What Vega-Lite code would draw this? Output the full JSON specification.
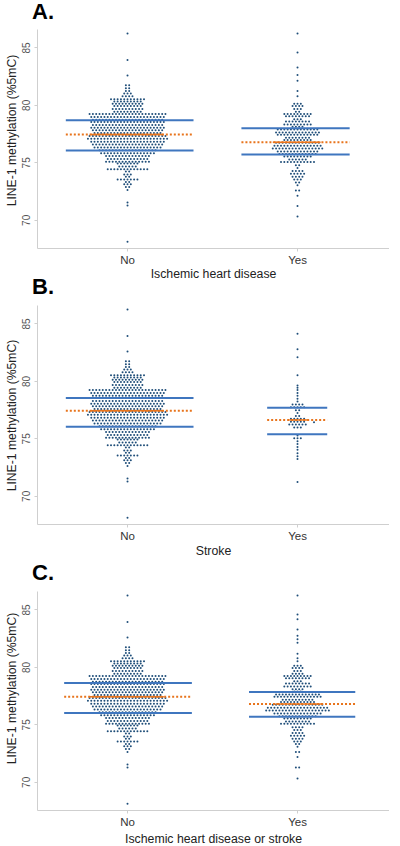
{"$schema":"https://vega.github.io/schema/vega-lite/v6.json","background":"white","padding":{"left":5,"top":1,"right":0,"bottom":0},"spacing":-4,
"config":{"view":{"stroke":null},"font":"Liberation Sans","axisX":{"labelAngle":0,"labelFontSize":11.5,"titleFontSize":12.3,"labelPadding":3,"titlePadding":2},"axisY":{"labelAngle":-90,"labelAlign":"center","labelBaseline":"bottom","labelFontSize":10,"labelColor":"#555555","titleFontSize":12.2,"labelPadding":3,"titlePadding":3},"axis":{"grid":false,"domainColor":"#cfcfcf","tickColor":"#cfcfcf","tickSize":3,"labelColor":"#333333","titleColor":"#222222","titleFontWeight":"normal"},"title":{"font":"Liberation Sans","fontSize":22,"fontWeight":"bold","anchor":"start","frame":"group","dx":-5}},
"datasets":{
"no":[{"slot":0,"pct":68.1},{"slot":0,"pct":71.25},{"slot":0,"pct":71.5},{"slot":0,"pct":72.6},{"slot":-0.5,"pct":72.85},{"slot":0.5,"pct":72.85},{"slot":-1,"pct":73.1},{"slot":0,"pct":73.1},{"slot":1,"pct":73.1},{"slot":-0.5,"pct":73.3},{"slot":0.5,"pct":73.3},{"slot":-3,"pct":73.5},{"slot":-2,"pct":73.5},{"slot":-1,"pct":73.5},{"slot":0,"pct":73.5},{"slot":1,"pct":73.5},{"slot":2,"pct":73.5},{"slot":3,"pct":73.5},{"slot":-0.5,"pct":73.75},{"slot":0.5,"pct":73.75},{"slot":-1,"pct":73.95},{"slot":0,"pct":73.95},{"slot":1,"pct":73.95},{"slot":-0.5,"pct":74.2},{"slot":0.5,"pct":74.2},{"slot":-6,"pct":74.4},{"slot":-5,"pct":74.4},{"slot":-4,"pct":74.4},{"slot":-3,"pct":74.4},{"slot":-2,"pct":74.4},{"slot":-1,"pct":74.4},{"slot":0,"pct":74.4},{"slot":1,"pct":74.4},{"slot":2,"pct":74.4},{"slot":3,"pct":74.4},{"slot":4,"pct":74.4},{"slot":5,"pct":74.4},{"slot":6,"pct":74.4},{"slot":-2.5,"pct":74.65},{"slot":-1.5,"pct":74.65},{"slot":-0.5,"pct":74.65},{"slot":0.5,"pct":74.65},{"slot":1.5,"pct":74.65},{"slot":2.5,"pct":74.65},{"slot":-3,"pct":74.9},{"slot":-2,"pct":74.9},{"slot":-1,"pct":74.9},{"slot":0,"pct":74.9},{"slot":1,"pct":74.9},{"slot":2,"pct":74.9},{"slot":3,"pct":74.9},{"slot":-6.5,"pct":75.05},{"slot":-5.5,"pct":75.05},{"slot":-4.5,"pct":75.05},{"slot":-3.5,"pct":75.05},{"slot":-2.5,"pct":75.05},{"slot":-1.5,"pct":75.05},{"slot":-0.5,"pct":75.05},{"slot":0.5,"pct":75.05},{"slot":1.5,"pct":75.05},{"slot":2.5,"pct":75.05},{"slot":3.5,"pct":75.05},{"slot":4.5,"pct":75.05},{"slot":5.5,"pct":75.05},{"slot":6.5,"pct":75.05},{"slot":-6,"pct":75.3},{"slot":-5,"pct":75.3},{"slot":-4,"pct":75.3},{"slot":-3,"pct":75.3},{"slot":-2,"pct":75.3},{"slot":-1,"pct":75.3},{"slot":0,"pct":75.3},{"slot":1,"pct":75.3},{"slot":2,"pct":75.3},{"slot":3,"pct":75.3},{"slot":4,"pct":75.3},{"slot":5,"pct":75.3},{"slot":6,"pct":75.3},{"slot":-6.5,"pct":75.55},{"slot":-5.5,"pct":75.55},{"slot":-4.5,"pct":75.55},{"slot":-3.5,"pct":75.55},{"slot":-2.5,"pct":75.55},{"slot":-1.5,"pct":75.55},{"slot":-0.5,"pct":75.55},{"slot":0.5,"pct":75.55},{"slot":1.5,"pct":75.55},{"slot":2.5,"pct":75.55},{"slot":3.5,"pct":75.55},{"slot":4.5,"pct":75.55},{"slot":5.5,"pct":75.55},{"slot":6.5,"pct":75.55},{"slot":-8,"pct":75.8},{"slot":-7,"pct":75.8},{"slot":-6,"pct":75.8},{"slot":-5,"pct":75.8},{"slot":-4,"pct":75.8},{"slot":-3,"pct":75.8},{"slot":-2,"pct":75.8},{"slot":-1,"pct":75.8},{"slot":0,"pct":75.8},{"slot":1,"pct":75.8},{"slot":2,"pct":75.8},{"slot":3,"pct":75.8},{"slot":4,"pct":75.8},{"slot":5,"pct":75.8},{"slot":6,"pct":75.8},{"slot":7,"pct":75.8},{"slot":8,"pct":75.8},{"slot":-8.5,"pct":76.05},{"slot":-7.5,"pct":76.05},{"slot":-6.5,"pct":76.05},{"slot":-5.5,"pct":76.05},{"slot":-4.5,"pct":76.05},{"slot":-3.5,"pct":76.05},{"slot":-2.5,"pct":76.05},{"slot":-1.5,"pct":76.05},{"slot":-0.5,"pct":76.05},{"slot":0.5,"pct":76.05},{"slot":1.5,"pct":76.05},{"slot":2.5,"pct":76.05},{"slot":3.5,"pct":76.05},{"slot":4.5,"pct":76.05},{"slot":5.5,"pct":76.05},{"slot":6.5,"pct":76.05},{"slot":7.5,"pct":76.05},{"slot":8.5,"pct":76.05},{"slot":-10,"pct":76.3},{"slot":-9,"pct":76.3},{"slot":-8,"pct":76.3},{"slot":-7,"pct":76.3},{"slot":-6,"pct":76.3},{"slot":-5,"pct":76.3},{"slot":-4,"pct":76.3},{"slot":-3,"pct":76.3},{"slot":-2,"pct":76.3},{"slot":-1,"pct":76.3},{"slot":0,"pct":76.3},{"slot":1,"pct":76.3},{"slot":2,"pct":76.3},{"slot":3,"pct":76.3},{"slot":4,"pct":76.3},{"slot":5,"pct":76.3},{"slot":6,"pct":76.3},{"slot":7,"pct":76.3},{"slot":8,"pct":76.3},{"slot":9,"pct":76.3},{"slot":10,"pct":76.3},{"slot":-10.5,"pct":76.55},{"slot":-9.5,"pct":76.55},{"slot":-8.5,"pct":76.55},{"slot":-7.5,"pct":76.55},{"slot":-6.5,"pct":76.55},{"slot":-5.5,"pct":76.55},{"slot":-4.5,"pct":76.55},{"slot":-3.5,"pct":76.55},{"slot":-2.5,"pct":76.55},{"slot":-1.5,"pct":76.55},{"slot":-0.5,"pct":76.55},{"slot":0.5,"pct":76.55},{"slot":1.5,"pct":76.55},{"slot":2.5,"pct":76.55},{"slot":3.5,"pct":76.55},{"slot":4.5,"pct":76.55},{"slot":5.5,"pct":76.55},{"slot":6.5,"pct":76.55},{"slot":7.5,"pct":76.55},{"slot":8.5,"pct":76.55},{"slot":9.5,"pct":76.55},{"slot":10.5,"pct":76.55},{"slot":-11,"pct":76.8},{"slot":-10,"pct":76.8},{"slot":-9,"pct":76.8},{"slot":-8,"pct":76.8},{"slot":-7,"pct":76.8},{"slot":-6,"pct":76.8},{"slot":-5,"pct":76.8},{"slot":-4,"pct":76.8},{"slot":-3,"pct":76.8},{"slot":-2,"pct":76.8},{"slot":-1,"pct":76.8},{"slot":0,"pct":76.8},{"slot":1,"pct":76.8},{"slot":2,"pct":76.8},{"slot":3,"pct":76.8},{"slot":4,"pct":76.8},{"slot":5,"pct":76.8},{"slot":6,"pct":76.8},{"slot":7,"pct":76.8},{"slot":8,"pct":76.8},{"slot":9,"pct":76.8},{"slot":10,"pct":76.8},{"slot":11,"pct":76.8},{"slot":-12,"pct":77.05},{"slot":-11,"pct":77.05},{"slot":-10,"pct":77.05},{"slot":-9,"pct":77.05},{"slot":-8,"pct":77.05},{"slot":-7,"pct":77.05},{"slot":-6,"pct":77.05},{"slot":-5,"pct":77.05},{"slot":-4,"pct":77.05},{"slot":-3,"pct":77.05},{"slot":-2,"pct":77.05},{"slot":-1,"pct":77.05},{"slot":0,"pct":77.05},{"slot":1,"pct":77.05},{"slot":2,"pct":77.05},{"slot":3,"pct":77.05},{"slot":4,"pct":77.05},{"slot":5,"pct":77.05},{"slot":6,"pct":77.05},{"slot":7,"pct":77.05},{"slot":8,"pct":77.05},{"slot":9,"pct":77.05},{"slot":10,"pct":77.05},{"slot":11,"pct":77.05},{"slot":12,"pct":77.05},{"slot":-11.5,"pct":77.3},{"slot":-10.5,"pct":77.3},{"slot":-9.5,"pct":77.3},{"slot":-8.5,"pct":77.3},{"slot":-7.5,"pct":77.3},{"slot":-6.5,"pct":77.3},{"slot":-5.5,"pct":77.3},{"slot":-4.5,"pct":77.3},{"slot":-3.5,"pct":77.3},{"slot":-2.5,"pct":77.3},{"slot":-1.5,"pct":77.3},{"slot":-0.5,"pct":77.3},{"slot":0.5,"pct":77.3},{"slot":1.5,"pct":77.3},{"slot":2.5,"pct":77.3},{"slot":3.5,"pct":77.3},{"slot":4.5,"pct":77.3},{"slot":5.5,"pct":77.3},{"slot":6.5,"pct":77.3},{"slot":7.5,"pct":77.3},{"slot":8.5,"pct":77.3},{"slot":9.5,"pct":77.3},{"slot":10.5,"pct":77.3},{"slot":11.5,"pct":77.3},{"slot":-10,"pct":77.55},{"slot":-9,"pct":77.55},{"slot":-8,"pct":77.55},{"slot":-7,"pct":77.55},{"slot":-6,"pct":77.55},{"slot":-5,"pct":77.55},{"slot":-4,"pct":77.55},{"slot":-3,"pct":77.55},{"slot":-2,"pct":77.55},{"slot":-1,"pct":77.55},{"slot":0,"pct":77.55},{"slot":1,"pct":77.55},{"slot":2,"pct":77.55},{"slot":3,"pct":77.55},{"slot":4,"pct":77.55},{"slot":5,"pct":77.55},{"slot":6,"pct":77.55},{"slot":7,"pct":77.55},{"slot":8,"pct":77.55},{"slot":9,"pct":77.55},{"slot":10,"pct":77.55},{"slot":-10.5,"pct":77.8},{"slot":-9.5,"pct":77.8},{"slot":-8.5,"pct":77.8},{"slot":-7.5,"pct":77.8},{"slot":-6.5,"pct":77.8},{"slot":-5.5,"pct":77.8},{"slot":-4.5,"pct":77.8},{"slot":-3.5,"pct":77.8},{"slot":-2.5,"pct":77.8},{"slot":-1.5,"pct":77.8},{"slot":-0.5,"pct":77.8},{"slot":0.5,"pct":77.8},{"slot":1.5,"pct":77.8},{"slot":2.5,"pct":77.8},{"slot":3.5,"pct":77.8},{"slot":4.5,"pct":77.8},{"slot":5.5,"pct":77.8},{"slot":6.5,"pct":77.8},{"slot":7.5,"pct":77.8},{"slot":8.5,"pct":77.8},{"slot":9.5,"pct":77.8},{"slot":10.5,"pct":77.8},{"slot":-11,"pct":78.0},{"slot":-10,"pct":78.0},{"slot":-9,"pct":78.0},{"slot":-8,"pct":78.0},{"slot":-7,"pct":78.0},{"slot":-6,"pct":78.0},{"slot":-5,"pct":78.0},{"slot":-4,"pct":78.0},{"slot":-3,"pct":78.0},{"slot":-2,"pct":78.0},{"slot":-1,"pct":78.0},{"slot":0,"pct":78.0},{"slot":1,"pct":78.0},{"slot":2,"pct":78.0},{"slot":3,"pct":78.0},{"slot":4,"pct":78.0},{"slot":5,"pct":78.0},{"slot":6,"pct":78.0},{"slot":7,"pct":78.0},{"slot":8,"pct":78.0},{"slot":9,"pct":78.0},{"slot":10,"pct":78.0},{"slot":11,"pct":78.0},{"slot":-10.5,"pct":78.25},{"slot":-9.5,"pct":78.25},{"slot":-8.5,"pct":78.25},{"slot":-7.5,"pct":78.25},{"slot":-6.5,"pct":78.25},{"slot":-5.5,"pct":78.25},{"slot":-4.5,"pct":78.25},{"slot":-3.5,"pct":78.25},{"slot":-2.5,"pct":78.25},{"slot":-1.5,"pct":78.25},{"slot":-0.5,"pct":78.25},{"slot":0.5,"pct":78.25},{"slot":1.5,"pct":78.25},{"slot":2.5,"pct":78.25},{"slot":3.5,"pct":78.25},{"slot":4.5,"pct":78.25},{"slot":5.5,"pct":78.25},{"slot":6.5,"pct":78.25},{"slot":7.5,"pct":78.25},{"slot":8.5,"pct":78.25},{"slot":9.5,"pct":78.25},{"slot":10.5,"pct":78.25},{"slot":-11,"pct":78.5},{"slot":-10,"pct":78.5},{"slot":-9,"pct":78.5},{"slot":-8,"pct":78.5},{"slot":-7,"pct":78.5},{"slot":-6,"pct":78.5},{"slot":-5,"pct":78.5},{"slot":-4,"pct":78.5},{"slot":-3,"pct":78.5},{"slot":-2,"pct":78.5},{"slot":-1,"pct":78.5},{"slot":0,"pct":78.5},{"slot":1,"pct":78.5},{"slot":2,"pct":78.5},{"slot":3,"pct":78.5},{"slot":4,"pct":78.5},{"slot":5,"pct":78.5},{"slot":6,"pct":78.5},{"slot":7,"pct":78.5},{"slot":8,"pct":78.5},{"slot":9,"pct":78.5},{"slot":10,"pct":78.5},{"slot":11,"pct":78.5},{"slot":-10.5,"pct":78.7},{"slot":-9.5,"pct":78.7},{"slot":-8.5,"pct":78.7},{"slot":-7.5,"pct":78.7},{"slot":-6.5,"pct":78.7},{"slot":-5.5,"pct":78.7},{"slot":-4.5,"pct":78.7},{"slot":-3.5,"pct":78.7},{"slot":-2.5,"pct":78.7},{"slot":-1.5,"pct":78.7},{"slot":-0.5,"pct":78.7},{"slot":0.5,"pct":78.7},{"slot":1.5,"pct":78.7},{"slot":2.5,"pct":78.7},{"slot":3.5,"pct":78.7},{"slot":4.5,"pct":78.7},{"slot":5.5,"pct":78.7},{"slot":6.5,"pct":78.7},{"slot":7.5,"pct":78.7},{"slot":8.5,"pct":78.7},{"slot":9.5,"pct":78.7},{"slot":10.5,"pct":78.7},{"slot":-11,"pct":78.95},{"slot":-10,"pct":78.95},{"slot":-9,"pct":78.95},{"slot":-8,"pct":78.95},{"slot":-7,"pct":78.95},{"slot":-6,"pct":78.95},{"slot":-5,"pct":78.95},{"slot":-4,"pct":78.95},{"slot":-3,"pct":78.95},{"slot":-2,"pct":78.95},{"slot":-1,"pct":78.95},{"slot":0,"pct":78.95},{"slot":1,"pct":78.95},{"slot":2,"pct":78.95},{"slot":3,"pct":78.95},{"slot":4,"pct":78.95},{"slot":5,"pct":78.95},{"slot":6,"pct":78.95},{"slot":7,"pct":78.95},{"slot":8,"pct":78.95},{"slot":9,"pct":78.95},{"slot":10,"pct":78.95},{"slot":11,"pct":78.95},{"slot":-11.5,"pct":79.2},{"slot":-10.5,"pct":79.2},{"slot":-9.5,"pct":79.2},{"slot":-8.5,"pct":79.2},{"slot":-7.5,"pct":79.2},{"slot":-6.5,"pct":79.2},{"slot":-5.5,"pct":79.2},{"slot":-4.5,"pct":79.2},{"slot":-3.5,"pct":79.2},{"slot":-2.5,"pct":79.2},{"slot":-1.5,"pct":79.2},{"slot":-0.5,"pct":79.2},{"slot":0.5,"pct":79.2},{"slot":1.5,"pct":79.2},{"slot":2.5,"pct":79.2},{"slot":3.5,"pct":79.2},{"slot":4.5,"pct":79.2},{"slot":5.5,"pct":79.2},{"slot":6.5,"pct":79.2},{"slot":7.5,"pct":79.2},{"slot":8.5,"pct":79.2},{"slot":9.5,"pct":79.2},{"slot":10.5,"pct":79.2},{"slot":11.5,"pct":79.2},{"slot":-4,"pct":79.4},{"slot":-3,"pct":79.4},{"slot":-2,"pct":79.4},{"slot":-1,"pct":79.4},{"slot":0,"pct":79.4},{"slot":1,"pct":79.4},{"slot":2,"pct":79.4},{"slot":3,"pct":79.4},{"slot":4,"pct":79.4},{"slot":-4.5,"pct":79.65},{"slot":-3.5,"pct":79.65},{"slot":-2.5,"pct":79.65},{"slot":-1.5,"pct":79.65},{"slot":-0.5,"pct":79.65},{"slot":0.5,"pct":79.65},{"slot":1.5,"pct":79.65},{"slot":2.5,"pct":79.65},{"slot":3.5,"pct":79.65},{"slot":4.5,"pct":79.65},{"slot":-4,"pct":79.9},{"slot":-3,"pct":79.9},{"slot":-2,"pct":79.9},{"slot":-1,"pct":79.9},{"slot":0,"pct":79.9},{"slot":1,"pct":79.9},{"slot":2,"pct":79.9},{"slot":3,"pct":79.9},{"slot":4,"pct":79.9},{"slot":-4.5,"pct":80.1},{"slot":-3.5,"pct":80.1},{"slot":-2.5,"pct":80.1},{"slot":-1.5,"pct":80.1},{"slot":-0.5,"pct":80.1},{"slot":0.5,"pct":80.1},{"slot":1.5,"pct":80.1},{"slot":2.5,"pct":80.1},{"slot":3.5,"pct":80.1},{"slot":4.5,"pct":80.1},{"slot":-4,"pct":80.3},{"slot":-3,"pct":80.3},{"slot":-2,"pct":80.3},{"slot":-1,"pct":80.3},{"slot":0,"pct":80.3},{"slot":1,"pct":80.3},{"slot":2,"pct":80.3},{"slot":3,"pct":80.3},{"slot":4,"pct":80.3},{"slot":-5,"pct":80.5},{"slot":-4,"pct":80.5},{"slot":-3,"pct":80.5},{"slot":-2,"pct":80.5},{"slot":-1,"pct":80.5},{"slot":0,"pct":80.5},{"slot":1,"pct":80.5},{"slot":2,"pct":80.5},{"slot":3,"pct":80.5},{"slot":4,"pct":80.5},{"slot":5,"pct":80.5},{"slot":-1.5,"pct":80.75},{"slot":-0.5,"pct":80.75},{"slot":0.5,"pct":80.75},{"slot":1.5,"pct":80.75},{"slot":-1,"pct":81.0},{"slot":0,"pct":81.0},{"slot":1,"pct":81.0},{"slot":-0.5,"pct":81.2},{"slot":0.5,"pct":81.2},{"slot":-0.5,"pct":81.45},{"slot":0.5,"pct":81.45},{"slot":-0.5,"pct":81.7},{"slot":0.5,"pct":81.7},{"slot":0,"pct":82.55},{"slot":0,"pct":83.9},{"slot":0,"pct":86.2}],
"yesA":[{"slot":0,"pct":70.3},{"slot":0,"pct":71.2},{"slot":0,"pct":72.1},{"slot":-0.5,"pct":72.55},{"slot":0.5,"pct":72.55},{"slot":0,"pct":73.0},{"slot":-0.5,"pct":73.25},{"slot":0.5,"pct":73.25},{"slot":-1,"pct":73.5},{"slot":0,"pct":73.5},{"slot":1,"pct":73.5},{"slot":-1.5,"pct":73.75},{"slot":-0.5,"pct":73.75},{"slot":0.5,"pct":73.75},{"slot":1.5,"pct":73.75},{"slot":-2,"pct":74.0},{"slot":-1,"pct":74.0},{"slot":0,"pct":74.0},{"slot":1,"pct":74.0},{"slot":2,"pct":74.0},{"slot":-1.5,"pct":74.25},{"slot":-0.5,"pct":74.25},{"slot":0.5,"pct":74.25},{"slot":1.5,"pct":74.25},{"slot":0,"pct":74.5},{"slot":-0.5,"pct":74.75},{"slot":0.5,"pct":74.75},{"slot":-5,"pct":75.03},{"slot":-4,"pct":75.03},{"slot":-3,"pct":75.03},{"slot":-2,"pct":75.03},{"slot":-1,"pct":75.03},{"slot":0,"pct":75.03},{"slot":1,"pct":75.03},{"slot":2,"pct":75.03},{"slot":3,"pct":75.03},{"slot":4,"pct":75.03},{"slot":5,"pct":75.03},{"slot":-2.5,"pct":75.25},{"slot":-1.5,"pct":75.25},{"slot":-0.5,"pct":75.25},{"slot":0.5,"pct":75.25},{"slot":1.5,"pct":75.25},{"slot":2.5,"pct":75.25},{"slot":-4,"pct":75.5},{"slot":-3,"pct":75.5},{"slot":-2,"pct":75.5},{"slot":-1,"pct":75.5},{"slot":0,"pct":75.5},{"slot":1,"pct":75.5},{"slot":2,"pct":75.5},{"slot":3,"pct":75.5},{"slot":4,"pct":75.5},{"slot":-5.5,"pct":75.72},{"slot":-4.5,"pct":75.72},{"slot":-3.5,"pct":75.72},{"slot":-2.5,"pct":75.72},{"slot":-1.5,"pct":75.72},{"slot":-0.5,"pct":75.72},{"slot":0.5,"pct":75.72},{"slot":1.5,"pct":75.72},{"slot":2.5,"pct":75.72},{"slot":3.5,"pct":75.72},{"slot":4.5,"pct":75.72},{"slot":5.5,"pct":75.72},{"slot":-6,"pct":75.95},{"slot":-5,"pct":75.95},{"slot":-4,"pct":75.95},{"slot":-3,"pct":75.95},{"slot":-2,"pct":75.95},{"slot":-1,"pct":75.95},{"slot":0,"pct":75.95},{"slot":1,"pct":75.95},{"slot":2,"pct":75.95},{"slot":3,"pct":75.95},{"slot":4,"pct":75.95},{"slot":5,"pct":75.95},{"slot":6,"pct":75.95},{"slot":-7.5,"pct":76.2},{"slot":-6.5,"pct":76.2},{"slot":-5.5,"pct":76.2},{"slot":-4.5,"pct":76.2},{"slot":-3.5,"pct":76.2},{"slot":-2.5,"pct":76.2},{"slot":-1.5,"pct":76.2},{"slot":-0.5,"pct":76.2},{"slot":0.5,"pct":76.2},{"slot":1.5,"pct":76.2},{"slot":2.5,"pct":76.2},{"slot":3.5,"pct":76.2},{"slot":4.5,"pct":76.2},{"slot":5.5,"pct":76.2},{"slot":6.5,"pct":76.2},{"slot":7.5,"pct":76.2},{"slot":-7,"pct":76.45},{"slot":-6,"pct":76.45},{"slot":-5,"pct":76.45},{"slot":-4,"pct":76.45},{"slot":-3,"pct":76.45},{"slot":-2,"pct":76.45},{"slot":-1,"pct":76.45},{"slot":0,"pct":76.45},{"slot":1,"pct":76.45},{"slot":2,"pct":76.45},{"slot":3,"pct":76.45},{"slot":4,"pct":76.45},{"slot":5,"pct":76.45},{"slot":6,"pct":76.45},{"slot":7,"pct":76.45},{"slot":-6.5,"pct":76.7},{"slot":-5.5,"pct":76.7},{"slot":-4.5,"pct":76.7},{"slot":-3.5,"pct":76.7},{"slot":-2.5,"pct":76.7},{"slot":-1.5,"pct":76.7},{"slot":-0.5,"pct":76.7},{"slot":0.5,"pct":76.7},{"slot":1.5,"pct":76.7},{"slot":2.5,"pct":76.7},{"slot":3.5,"pct":76.7},{"slot":4.5,"pct":76.7},{"slot":5.5,"pct":76.7},{"slot":6.5,"pct":76.7},{"slot":-4,"pct":76.95},{"slot":-3,"pct":76.95},{"slot":-2,"pct":76.95},{"slot":-1,"pct":76.95},{"slot":0,"pct":76.95},{"slot":1,"pct":76.95},{"slot":2,"pct":76.95},{"slot":3,"pct":76.95},{"slot":4,"pct":76.95},{"slot":-3.5,"pct":77.15},{"slot":-2.5,"pct":77.15},{"slot":-1.5,"pct":77.15},{"slot":-0.5,"pct":77.15},{"slot":0.5,"pct":77.15},{"slot":1.5,"pct":77.15},{"slot":2.5,"pct":77.15},{"slot":3.5,"pct":77.15},{"slot":-6,"pct":77.4},{"slot":-5,"pct":77.4},{"slot":-4,"pct":77.4},{"slot":-3,"pct":77.4},{"slot":-2,"pct":77.4},{"slot":-1,"pct":77.4},{"slot":0,"pct":77.4},{"slot":1,"pct":77.4},{"slot":2,"pct":77.4},{"slot":3,"pct":77.4},{"slot":4,"pct":77.4},{"slot":5,"pct":77.4},{"slot":6,"pct":77.4},{"slot":-6.5,"pct":77.6},{"slot":-5.5,"pct":77.6},{"slot":-4.5,"pct":77.6},{"slot":-3.5,"pct":77.6},{"slot":-2.5,"pct":77.6},{"slot":-1.5,"pct":77.6},{"slot":-0.5,"pct":77.6},{"slot":0.5,"pct":77.6},{"slot":1.5,"pct":77.6},{"slot":2.5,"pct":77.6},{"slot":3.5,"pct":77.6},{"slot":4.5,"pct":77.6},{"slot":5.5,"pct":77.6},{"slot":6.5,"pct":77.6},{"slot":-6,"pct":77.85},{"slot":-5,"pct":77.85},{"slot":-4,"pct":77.85},{"slot":-3,"pct":77.85},{"slot":-2,"pct":77.85},{"slot":-1,"pct":77.85},{"slot":0,"pct":77.85},{"slot":1,"pct":77.85},{"slot":2,"pct":77.85},{"slot":3,"pct":77.85},{"slot":4,"pct":77.85},{"slot":5,"pct":77.85},{"slot":6,"pct":77.85},{"slot":-1.5,"pct":78.1},{"slot":-0.5,"pct":78.1},{"slot":0.5,"pct":78.1},{"slot":1.5,"pct":78.1},{"slot":-4,"pct":78.3},{"slot":-3,"pct":78.3},{"slot":-2,"pct":78.3},{"slot":-1,"pct":78.3},{"slot":0,"pct":78.3},{"slot":1,"pct":78.3},{"slot":2,"pct":78.3},{"slot":3,"pct":78.3},{"slot":4,"pct":78.3},{"slot":-3.5,"pct":78.55},{"slot":-2.5,"pct":78.55},{"slot":-1.5,"pct":78.55},{"slot":-0.5,"pct":78.55},{"slot":0.5,"pct":78.55},{"slot":1.5,"pct":78.55},{"slot":2.5,"pct":78.55},{"slot":3.5,"pct":78.55},{"slot":-1,"pct":78.75},{"slot":0,"pct":78.75},{"slot":1,"pct":78.75},{"slot":-3.5,"pct":79.0},{"slot":-2.5,"pct":79.0},{"slot":-1.5,"pct":79.0},{"slot":-0.5,"pct":79.0},{"slot":0.5,"pct":79.0},{"slot":1.5,"pct":79.0},{"slot":2.5,"pct":79.0},{"slot":3.5,"pct":79.0},{"slot":-4,"pct":79.2},{"slot":-3,"pct":79.2},{"slot":-2,"pct":79.2},{"slot":-1,"pct":79.2},{"slot":0,"pct":79.2},{"slot":1,"pct":79.2},{"slot":2,"pct":79.2},{"slot":3,"pct":79.2},{"slot":4,"pct":79.2},{"slot":-0.5,"pct":79.4},{"slot":0.5,"pct":79.4},{"slot":-1,"pct":79.65},{"slot":0,"pct":79.65},{"slot":1,"pct":79.65},{"slot":-1.5,"pct":79.9},{"slot":-0.5,"pct":79.9},{"slot":0.5,"pct":79.9},{"slot":1.5,"pct":79.9},{"slot":-1,"pct":80.1},{"slot":0,"pct":80.1},{"slot":1,"pct":80.1},{"slot":0,"pct":80.75},{"slot":0,"pct":81.2},{"slot":0,"pct":82.1},{"slot":0,"pct":82.6},{"slot":0,"pct":83.25},{"slot":0,"pct":84.55},{"slot":0,"pct":86.2}],
"yesB":[{"slot":0,"pct":71.2},{"slot":0,"pct":73.2},{"slot":0,"pct":73.45},{"slot":0,"pct":73.7},{"slot":0,"pct":74.0},{"slot":0,"pct":74.25},{"slot":0,"pct":74.5},{"slot":0,"pct":74.75},{"slot":-1,"pct":75.0},{"slot":0,"pct":75.0},{"slot":1,"pct":75.0},{"slot":0,"pct":75.25},{"slot":-1,"pct":75.95},{"slot":0,"pct":75.95},{"slot":1,"pct":75.95},{"slot":-2.5,"pct":76.2},{"slot":-1.5,"pct":76.2},{"slot":-0.5,"pct":76.2},{"slot":0.5,"pct":76.2},{"slot":1.5,"pct":76.2},{"slot":2.5,"pct":76.2},{"slot":-2,"pct":76.45},{"slot":-1,"pct":76.45},{"slot":0,"pct":76.45},{"slot":1,"pct":76.45},{"slot":2,"pct":76.45},{"slot":5,"pct":76.4},{"slot":-2,"pct":76.7},{"slot":-1,"pct":76.7},{"slot":0,"pct":76.7},{"slot":1,"pct":76.7},{"slot":2,"pct":76.7},{"slot":-0.5,"pct":76.95},{"slot":0.5,"pct":76.95},{"slot":0,"pct":77.2},{"slot":-0.5,"pct":77.45},{"slot":0.5,"pct":77.45},{"slot":-2,"pct":77.7},{"slot":-1,"pct":77.7},{"slot":0,"pct":77.7},{"slot":1,"pct":77.7},{"slot":2,"pct":77.7},{"slot":-1.5,"pct":77.95},{"slot":-0.5,"pct":77.95},{"slot":0.5,"pct":77.95},{"slot":1.5,"pct":77.95},{"slot":0,"pct":78.2},{"slot":0,"pct":78.45},{"slot":0,"pct":78.7},{"slot":0,"pct":78.95},{"slot":0,"pct":79.2},{"slot":0,"pct":79.4},{"slot":0,"pct":79.6},{"slot":0,"pct":80.5},{"slot":0,"pct":82.05},{"slot":0,"pct":82.75},{"slot":0,"pct":84.1}],
"yesC":[{"slot":0,"pct":70.3},{"slot":-0.5,"pct":71.25},{"slot":0.5,"pct":71.25},{"slot":0,"pct":72.15},{"slot":-0.5,"pct":72.6},{"slot":0.5,"pct":72.6},{"slot":0,"pct":73.05},{"slot":-0.5,"pct":73.3},{"slot":0.5,"pct":73.3},{"slot":-1,"pct":73.5},{"slot":0,"pct":73.5},{"slot":1,"pct":73.5},{"slot":-1.5,"pct":73.75},{"slot":-0.5,"pct":73.75},{"slot":0.5,"pct":73.75},{"slot":1.5,"pct":73.75},{"slot":-2,"pct":74.0},{"slot":-1,"pct":74.0},{"slot":0,"pct":74.0},{"slot":1,"pct":74.0},{"slot":2,"pct":74.0},{"slot":-1.5,"pct":74.25},{"slot":-0.5,"pct":74.25},{"slot":0.5,"pct":74.25},{"slot":1.5,"pct":74.25},{"slot":-1,"pct":74.5},{"slot":0,"pct":74.5},{"slot":1,"pct":74.5},{"slot":-1.5,"pct":74.75},{"slot":-0.5,"pct":74.75},{"slot":0.5,"pct":74.75},{"slot":1.5,"pct":74.75},{"slot":-5,"pct":75.05},{"slot":-4,"pct":75.05},{"slot":-3,"pct":75.05},{"slot":-2,"pct":75.05},{"slot":-1,"pct":75.05},{"slot":0,"pct":75.05},{"slot":1,"pct":75.05},{"slot":2,"pct":75.05},{"slot":3,"pct":75.05},{"slot":4,"pct":75.05},{"slot":5,"pct":75.05},{"slot":-3.5,"pct":75.25},{"slot":-2.5,"pct":75.25},{"slot":-1.5,"pct":75.25},{"slot":-0.5,"pct":75.25},{"slot":0.5,"pct":75.25},{"slot":1.5,"pct":75.25},{"slot":2.5,"pct":75.25},{"slot":3.5,"pct":75.25},{"slot":-4,"pct":75.5},{"slot":-3,"pct":75.5},{"slot":-2,"pct":75.5},{"slot":-1,"pct":75.5},{"slot":0,"pct":75.5},{"slot":1,"pct":75.5},{"slot":2,"pct":75.5},{"slot":3,"pct":75.5},{"slot":4,"pct":75.5},{"slot":-5.5,"pct":75.7},{"slot":-4.5,"pct":75.7},{"slot":-3.5,"pct":75.7},{"slot":-2.5,"pct":75.7},{"slot":-1.5,"pct":75.7},{"slot":-0.5,"pct":75.7},{"slot":0.5,"pct":75.7},{"slot":1.5,"pct":75.7},{"slot":2.5,"pct":75.7},{"slot":3.5,"pct":75.7},{"slot":4.5,"pct":75.7},{"slot":5.5,"pct":75.7},{"slot":-7,"pct":75.95},{"slot":-6,"pct":75.95},{"slot":-5,"pct":75.95},{"slot":-4,"pct":75.95},{"slot":-3,"pct":75.95},{"slot":-2,"pct":75.95},{"slot":-1,"pct":75.95},{"slot":0,"pct":75.95},{"slot":1,"pct":75.95},{"slot":2,"pct":75.95},{"slot":3,"pct":75.95},{"slot":4,"pct":75.95},{"slot":5,"pct":75.95},{"slot":6,"pct":75.95},{"slot":7,"pct":75.95},{"slot":-9.5,"pct":76.2},{"slot":-8.5,"pct":76.2},{"slot":-7.5,"pct":76.2},{"slot":-6.5,"pct":76.2},{"slot":-5.5,"pct":76.2},{"slot":-4.5,"pct":76.2},{"slot":-3.5,"pct":76.2},{"slot":-2.5,"pct":76.2},{"slot":-1.5,"pct":76.2},{"slot":-0.5,"pct":76.2},{"slot":0.5,"pct":76.2},{"slot":1.5,"pct":76.2},{"slot":2.5,"pct":76.2},{"slot":3.5,"pct":76.2},{"slot":4.5,"pct":76.2},{"slot":5.5,"pct":76.2},{"slot":6.5,"pct":76.2},{"slot":7.5,"pct":76.2},{"slot":8.5,"pct":76.2},{"slot":9.5,"pct":76.2},{"slot":-9,"pct":76.45},{"slot":-8,"pct":76.45},{"slot":-7,"pct":76.45},{"slot":-6,"pct":76.45},{"slot":-5,"pct":76.45},{"slot":-4,"pct":76.45},{"slot":-3,"pct":76.45},{"slot":-2,"pct":76.45},{"slot":-1,"pct":76.45},{"slot":0,"pct":76.45},{"slot":1,"pct":76.45},{"slot":2,"pct":76.45},{"slot":3,"pct":76.45},{"slot":4,"pct":76.45},{"slot":5,"pct":76.45},{"slot":6,"pct":76.45},{"slot":7,"pct":76.45},{"slot":8,"pct":76.45},{"slot":9,"pct":76.45},{"slot":-7.5,"pct":76.7},{"slot":-6.5,"pct":76.7},{"slot":-5.5,"pct":76.7},{"slot":-4.5,"pct":76.7},{"slot":-3.5,"pct":76.7},{"slot":-2.5,"pct":76.7},{"slot":-1.5,"pct":76.7},{"slot":-0.5,"pct":76.7},{"slot":0.5,"pct":76.7},{"slot":1.5,"pct":76.7},{"slot":2.5,"pct":76.7},{"slot":3.5,"pct":76.7},{"slot":4.5,"pct":76.7},{"slot":5.5,"pct":76.7},{"slot":6.5,"pct":76.7},{"slot":7.5,"pct":76.7},{"slot":-5,"pct":76.95},{"slot":-4,"pct":76.95},{"slot":-3,"pct":76.95},{"slot":-2,"pct":76.95},{"slot":-1,"pct":76.95},{"slot":0,"pct":76.95},{"slot":1,"pct":76.95},{"slot":2,"pct":76.95},{"slot":3,"pct":76.95},{"slot":4,"pct":76.95},{"slot":5,"pct":76.95},{"slot":-4.5,"pct":77.15},{"slot":-3.5,"pct":77.15},{"slot":-2.5,"pct":77.15},{"slot":-1.5,"pct":77.15},{"slot":-0.5,"pct":77.15},{"slot":0.5,"pct":77.15},{"slot":1.5,"pct":77.15},{"slot":2.5,"pct":77.15},{"slot":3.5,"pct":77.15},{"slot":4.5,"pct":77.15},{"slot":-7,"pct":77.4},{"slot":-6,"pct":77.4},{"slot":-5,"pct":77.4},{"slot":-4,"pct":77.4},{"slot":-3,"pct":77.4},{"slot":-2,"pct":77.4},{"slot":-1,"pct":77.4},{"slot":0,"pct":77.4},{"slot":1,"pct":77.4},{"slot":2,"pct":77.4},{"slot":3,"pct":77.4},{"slot":4,"pct":77.4},{"slot":5,"pct":77.4},{"slot":6,"pct":77.4},{"slot":7,"pct":77.4},{"slot":-6.5,"pct":77.6},{"slot":-5.5,"pct":77.6},{"slot":-4.5,"pct":77.6},{"slot":-3.5,"pct":77.6},{"slot":-2.5,"pct":77.6},{"slot":-1.5,"pct":77.6},{"slot":-0.5,"pct":77.6},{"slot":0.5,"pct":77.6},{"slot":1.5,"pct":77.6},{"slot":2.5,"pct":77.6},{"slot":3.5,"pct":77.6},{"slot":4.5,"pct":77.6},{"slot":5.5,"pct":77.6},{"slot":6.5,"pct":77.6},{"slot":-1,"pct":77.85},{"slot":0,"pct":77.85},{"slot":1,"pct":77.85},{"slot":-1.5,"pct":78.05},{"slot":-0.5,"pct":78.05},{"slot":0.5,"pct":78.05},{"slot":1.5,"pct":78.05},{"slot":-4,"pct":78.3},{"slot":-3,"pct":78.3},{"slot":-2,"pct":78.3},{"slot":-1,"pct":78.3},{"slot":0,"pct":78.3},{"slot":1,"pct":78.3},{"slot":2,"pct":78.3},{"slot":3,"pct":78.3},{"slot":4,"pct":78.3},{"slot":-3.5,"pct":78.55},{"slot":-2.5,"pct":78.55},{"slot":-1.5,"pct":78.55},{"slot":-0.5,"pct":78.55},{"slot":0.5,"pct":78.55},{"slot":1.5,"pct":78.55},{"slot":2.5,"pct":78.55},{"slot":3.5,"pct":78.55},{"slot":-1,"pct":78.75},{"slot":0,"pct":78.75},{"slot":1,"pct":78.75},{"slot":-3.5,"pct":79.0},{"slot":-2.5,"pct":79.0},{"slot":-1.5,"pct":79.0},{"slot":-0.5,"pct":79.0},{"slot":0.5,"pct":79.0},{"slot":1.5,"pct":79.0},{"slot":2.5,"pct":79.0},{"slot":3.5,"pct":79.0},{"slot":-4,"pct":79.2},{"slot":-3,"pct":79.2},{"slot":-2,"pct":79.2},{"slot":-1,"pct":79.2},{"slot":0,"pct":79.2},{"slot":1,"pct":79.2},{"slot":2,"pct":79.2},{"slot":3,"pct":79.2},{"slot":4,"pct":79.2},{"slot":-1.5,"pct":79.4},{"slot":-0.5,"pct":79.4},{"slot":0.5,"pct":79.4},{"slot":1.5,"pct":79.4},{"slot":-1,"pct":79.65},{"slot":0,"pct":79.65},{"slot":1,"pct":79.65},{"slot":-1.5,"pct":79.9},{"slot":-0.5,"pct":79.9},{"slot":0.5,"pct":79.9},{"slot":1.5,"pct":79.9},{"slot":-1,"pct":80.1},{"slot":0,"pct":80.1},{"slot":1,"pct":80.1},{"slot":0,"pct":80.5},{"slot":0,"pct":80.75},{"slot":0,"pct":81.15},{"slot":0,"pct":82.1},{"slot":0,"pct":82.4},{"slot":0,"pct":82.7},{"slot":0,"pct":83.25},{"slot":0,"pct":84.15},{"slot":0,"pct":84.55},{"slot":0,"pct":86.2}]
},
"vconcat":[
{"title":{"text":"A.","offset":5},"width":352,"height":219,"layer":[
{"data":{"name":"no"},"mark":{"type":"point","filled":true,"size":4,"color":"#1f4e79","opacity":1},"encoding":{"x":{"datum":"No","type":"nominal","scale":{"domain":["No","Yes"],"paddingInner":0,"paddingOuter":0.0353,"align":0.46},"axis":{"title":"Ischemic heart disease"}},"xOffset":{"field":"slot","type":"quantitative","scale":{"domain":[-25.76,25.76]}},"y":{"field":"pct","type":"quantitative","scale":{"domain":[67.55,86.6],"nice":false,"zero":false},"axis":{"values":[70,75,80,85],"title":"LINE-1 methylation (%5mC)","titleY":101}}}},
{"data":{"name":"yesA"},"mark":{"type":"point","filled":true,"size":4,"color":"#1f4e79","opacity":1},"encoding":{"x":{"datum":"Yes","type":"nominal"},"xOffset":{"field":"slot","type":"quantitative"},"y":{"field":"pct","type":"quantitative"}}},
{"data":{"values":[{"group":"No","stat":"q1","slot":-18.7,"pct":76.03},{"group":"No","stat":"q1","slot":20,"pct":76.03},{"group":"No","stat":"q3","slot":-18.7,"pct":78.67},{"group":"No","stat":"q3","slot":20,"pct":78.67},{"group":"Yes","stat":"q1","slot":-17,"pct":75.68},{"group":"Yes","stat":"q1","slot":15.8,"pct":75.68},{"group":"Yes","stat":"q3","slot":-17,"pct":77.97},{"group":"Yes","stat":"q3","slot":15.8,"pct":77.97}]},"mark":{"type":"line","color":"#3f76bf","strokeWidth":2},"encoding":{"x":{"field":"group","type":"nominal"},"xOffset":{"field":"slot","type":"quantitative"},"y":{"field":"pct","type":"quantitative"},"detail":[{"field":"group"},{"field":"stat"}]}},
{"data":{"values":[{"group":"No","slot":-18.7,"pct":77.42},{"group":"No","slot":20,"pct":77.42},{"group":"Yes","slot":-17,"pct":76.75},{"group":"Yes","slot":15.8,"pct":76.75}]},"mark":{"type":"line","color":"#e8741c","strokeWidth":2,"strokeDash":[2,2]},"encoding":{"x":{"field":"group","type":"nominal"},"xOffset":{"field":"slot","type":"quantitative"},"y":{"field":"pct","type":"quantitative"},"detail":{"field":"group"}}},
{"data":{"values":[{"group":"No","slot":-11.5,"pct":77.42},{"group":"No","slot":11,"pct":77.42},{"group":"Yes","slot":-7.5,"pct":76.75},{"group":"Yes","slot":7,"pct":76.75}]},"mark":{"type":"line","color":"#e8741c","strokeWidth":1.5},"encoding":{"x":{"field":"group","type":"nominal"},"xOffset":{"field":"slot","type":"quantitative"},"y":{"field":"pct","type":"quantitative"},"detail":{"field":"group"}}}]},
{"title":{"text":"B.","offset":6},"width":352,"height":219,"layer":[
{"data":{"name":"no"},"mark":{"type":"point","filled":true,"size":4,"color":"#1f4e79","opacity":1},"encoding":{"x":{"datum":"No","type":"nominal","scale":{"domain":["No","Yes"],"paddingInner":0,"paddingOuter":0.0353,"align":0.46},"axis":{"title":["Stroke"," "],"titleLineHeight":8,"titlePadding":3}},"xOffset":{"field":"slot","type":"quantitative","scale":{"domain":[-25.76,25.76]}},"y":{"field":"pct","type":"quantitative","scale":{"domain":[67.55,86.6],"nice":false,"zero":false},"axis":{"values":[70,75,80,85],"title":"LINE-1 methylation (%5mC)","titleY":110}}}},
{"data":{"name":"yesB"},"mark":{"type":"point","filled":true,"size":4,"color":"#1f4e79","opacity":1},"encoding":{"x":{"datum":"Yes","type":"nominal"},"xOffset":{"field":"slot","type":"quantitative"},"y":{"field":"pct","type":"quantitative"}}},
{"data":{"values":[{"group":"No","stat":"q1","slot":-18.7,"pct":76.02},{"group":"No","stat":"q1","slot":20,"pct":76.02},{"group":"No","stat":"q3","slot":-18.7,"pct":78.52},{"group":"No","stat":"q3","slot":20,"pct":78.52},{"group":"Yes","stat":"q1","slot":-9.2,"pct":75.35},{"group":"Yes","stat":"q1","slot":9,"pct":75.35},{"group":"Yes","stat":"q3","slot":-9.2,"pct":77.67},{"group":"Yes","stat":"q3","slot":9,"pct":77.67}]},"mark":{"type":"line","color":"#3f76bf","strokeWidth":2},"encoding":{"x":{"field":"group","type":"nominal"},"xOffset":{"field":"slot","type":"quantitative"},"y":{"field":"pct","type":"quantitative"},"detail":[{"field":"group"},{"field":"stat"}]}},
{"data":{"values":[{"group":"No","slot":-18.7,"pct":77.41},{"group":"No","slot":20,"pct":77.41},{"group":"Yes","slot":-9.2,"pct":76.6},{"group":"Yes","slot":9,"pct":76.6}]},"mark":{"type":"line","color":"#e8741c","strokeWidth":2,"strokeDash":[2,2]},"encoding":{"x":{"field":"group","type":"nominal"},"xOffset":{"field":"slot","type":"quantitative"},"y":{"field":"pct","type":"quantitative"},"detail":{"field":"group"}}},
{"data":{"values":[{"group":"No","slot":-11.5,"pct":77.41},{"group":"No","slot":11,"pct":77.41},{"group":"Yes","slot":-2.5,"pct":76.6},{"group":"Yes","slot":3.5,"pct":76.6}]},"mark":{"type":"line","color":"#e8741c","strokeWidth":1.5},"encoding":{"x":{"field":"group","type":"nominal"},"xOffset":{"field":"slot","type":"quantitative"},"y":{"field":"pct","type":"quantitative"},"detail":{"field":"group"}}}]},
{"title":{"text":"C.","offset":6.5},"width":352,"height":219,"layer":[
{"data":{"name":"no"},"mark":{"type":"point","filled":true,"size":4,"color":"#1f4e79","opacity":1},"encoding":{"x":{"datum":"No","type":"nominal","scale":{"domain":["No","Yes"],"paddingInner":0,"paddingOuter":0.0353,"align":0.46},"axis":{"title":"Ischemic heart disease or stroke","titlePadding":5}},"xOffset":{"field":"slot","type":"quantitative","scale":{"domain":[-25.76,25.76]}},"y":{"field":"pct","type":"quantitative","scale":{"domain":[67.55,86.6],"nice":false,"zero":false},"axis":{"values":[70,75,80,85],"title":"LINE-1 methylation (%5mC)","titleY":97}}}},
{"data":{"name":"yesC"},"mark":{"type":"point","filled":true,"size":4,"color":"#1f4e79","opacity":1},"encoding":{"x":{"datum":"Yes","type":"nominal"},"xOffset":{"field":"slot","type":"quantitative"},"y":{"field":"pct","type":"quantitative"}}},
{"data":{"values":[{"group":"No","stat":"q1","slot":-19.2,"pct":75.99},{"group":"No","stat":"q1","slot":19.5,"pct":75.99},{"group":"No","stat":"q3","slot":-19.2,"pct":78.6},{"group":"No","stat":"q3","slot":19.5,"pct":78.6},{"group":"Yes","stat":"q1","slot":-14.7,"pct":75.67},{"group":"Yes","stat":"q1","slot":17.5,"pct":75.67},{"group":"Yes","stat":"q3","slot":-14.7,"pct":77.82},{"group":"Yes","stat":"q3","slot":17.5,"pct":77.82}]},"mark":{"type":"line","color":"#3f76bf","strokeWidth":2},"encoding":{"x":{"field":"group","type":"nominal"},"xOffset":{"field":"slot","type":"quantitative"},"y":{"field":"pct","type":"quantitative"},"detail":[{"field":"group"},{"field":"stat"}]}},
{"data":{"values":[{"group":"No","slot":-19.2,"pct":77.41},{"group":"No","slot":19.5,"pct":77.41},{"group":"Yes","slot":-14.7,"pct":76.77},{"group":"Yes","slot":17.5,"pct":76.77}]},"mark":{"type":"line","color":"#e8741c","strokeWidth":2,"strokeDash":[2,2]},"encoding":{"x":{"field":"group","type":"nominal"},"xOffset":{"field":"slot","type":"quantitative"},"y":{"field":"pct","type":"quantitative"},"detail":{"field":"group"}}},
{"data":{"values":[{"group":"No","slot":-11.5,"pct":77.41},{"group":"No","slot":11,"pct":77.41},{"group":"Yes","slot":-6.7,"pct":76.77},{"group":"Yes","slot":7.8,"pct":76.77}]},"mark":{"type":"line","color":"#e8741c","strokeWidth":1.5},"encoding":{"x":{"field":"group","type":"nominal"},"xOffset":{"field":"slot","type":"quantitative"},"y":{"field":"pct","type":"quantitative"},"detail":{"field":"group"}}}]}
]}
